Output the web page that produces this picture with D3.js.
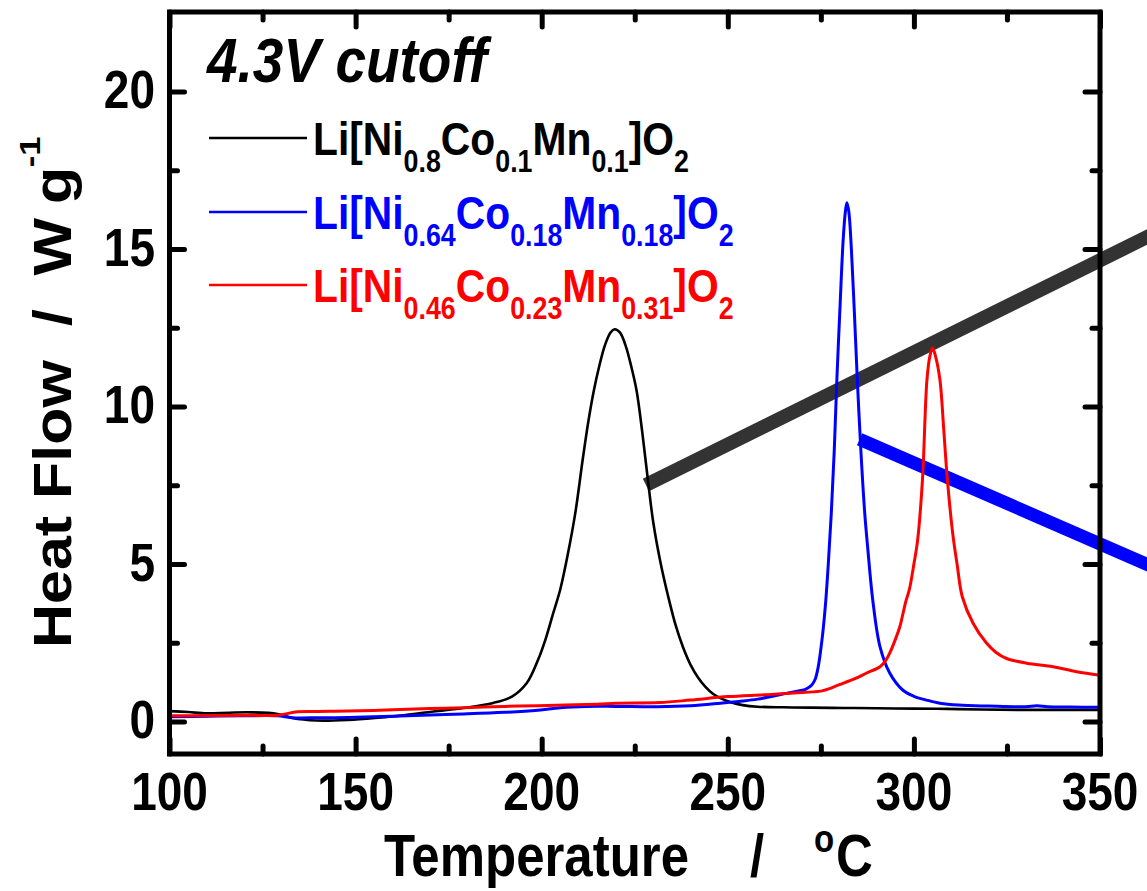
<!DOCTYPE html>
<html><head><meta charset="utf-8">
<script src="https://cdn.jsdelivr.net/npm/d3@7/dist/d3.min.js"></script>
<style>
body{margin:0;background:#fff}
svg{display:block;background:#fff}
text{font-family:"Liberation Sans",Arial,Helvetica,sans-serif;font-weight:bold}
</style>
</head><body>
<svg id="chart" width="1147" height="891"></svg>
<script>
// ---------- data ----------
const xTickValues = [100, 150, 200, 250, 300, 350];
const xMinorTicks = [125, 175, 225, 275, 325];
const yTickValues = [0, 5, 10, 15, 20];
const yMinorTicks = [2.5, 7.5, 12.5, 17.5];
const xTickLabels = ["100", "150", "200", "250", "300", "350"];
const yTickLabels = ["0", "5", "10", "15", "20"];

const blackT = [100,105,110,116,122,129,133,139.5,148,156,163,171,179,187,192,196,199,201,203,205,207,209,211,212.5,214,215.5,217,218.5,219.6,221,222.5,224,225.5,227,228.5,230,232,234,236,238,240,242,244,246,248,251,254,258,265,272,281,290,300,309,318,328,340,350];
const blackV = [0.33,0.30,0.26,0.28,0.29,0.24,0.11,0.03,0.05,0.12,0.20,0.32,0.43,0.59,0.79,1.22,1.95,2.6,3.4,4.2,5.3,6.6,8.3,9.5,10.5,11.3,11.95,12.35,12.45,12.35,11.95,11.3,10.5,9.2,7.7,6.3,5.0,3.96,3.05,2.35,1.8,1.4,1.1,0.88,0.74,0.6,0.52,0.47,0.45,0.44,0.43,0.42,0.41,0.40,0.38,0.37,0.37,0.37];

const blueT = [100,110,120,129,133,140,148,160,170,179,190,199,205,212,220,231,240,248,254,258,262,266,269,271,272.5,273.5,274.3,275,275.6,276.3,277,277.8,278.6,279.3,280.2,281,281.6,282,282.5,283.2,284,284.8,285.8,286.8,287.6,289,290.9,293.5,297,300,303.4,307,312,320,330,333,336,342,350];
const blueV = [0.15,0.17,0.18,0.18,0.12,0.12,0.13,0.17,0.21,0.24,0.29,0.36,0.44,0.48,0.48,0.47,0.50,0.58,0.65,0.71,0.80,0.90,0.97,1.03,1.15,1.35,1.74,2.3,2.9,3.8,5.0,6.6,8.6,10.84,13.3,15.3,16.2,16.47,16.2,15.0,13.0,10.84,8.5,6.6,5.5,3.8,2.37,1.54,1.0,0.8,0.68,0.58,0.52,0.49,0.47,0.50,0.47,0.46,0.45];

const redT = [100,110,120,129,134.4,140,148,160,170,179,190,199,215,220,231.7,240,250,260,270,275.6,280,284,287.3,290.9,292.5,293.5,295,296.2,297.8,298.8,300,301,302.3,303.5,304.3,305,305.8,307,308,309,310.5,311.6,313,315.9,319.5,322,324.9,330.3,337.4,343.7,350];
const redV = [0.18,0.19,0.20,0.20,0.31,0.32,0.33,0.37,0.41,0.44,0.48,0.50,0.55,0.58,0.60,0.68,0.79,0.85,0.92,0.98,1.17,1.35,1.54,1.74,1.95,2.17,2.6,3.0,3.8,4.2,5.0,5.76,7.67,10.84,11.6,11.86,11.6,10.84,9.3,7.67,5.9,5.0,3.96,3.12,2.49,2.2,2.0,1.85,1.74,1.58,1.47];

const seriesColors = ["#000000", "#0000ff", "#ff0000"];
const seriesLabels = [
  [{t:"Li[Ni"},{t:"0.8",sub:1},{t:"Co"},{t:"0.1",sub:1},{t:"Mn"},{t:"0.1",sub:1},{t:"]O"},{t:"2",sub:1}],
  [{t:"Li[Ni"},{t:"0.64",sub:1},{t:"Co"},{t:"0.18",sub:1},{t:"Mn"},{t:"0.18",sub:1},{t:"]O"},{t:"2",sub:1}],
  [{t:"Li[Ni"},{t:"0.46",sub:1},{t:"Co"},{t:"0.23",sub:1},{t:"Mn"},{t:"0.31",sub:1},{t:"]O"},{t:"2",sub:1}]
];
const titleText = "4.3V cutoff";
// annotation bars (data units: [T, value])
const grayBar = [[228.0, 7.51], [370, 15.81]];
const blueBar = [[285.4, 8.96], [370, 4.61]];

// ---------- layout ----------
const STRETCH = 1.15;
const L = 169.5, R = 1100, T = 12, B = 754;
const x = d3.scaleLinear().domain([100, 350]).range([L, R]);
const y = d3.scaleLinear().domain([0, 20]).range([721.5, 91.5]);

const svg = d3.select("#chart");

function richText(parent, tx, ty, segs, opts) {
  const g = parent.append("g").attr("transform", `translate(${tx},${ty}) scale(1,${STRETCH})`);
  const t = g.append("text").attr("font-size", opts.fs).attr("fill", opts.color || "#000")
    .attr("text-anchor", opts.anchor || "start");
  if (opts.italic) t.attr("font-style", "italic");
  let cur = 0;
  segs.forEach(s => {
    const off = s.sub ? opts.subDy : 0;
    t.append("tspan").attr("dy", off - cur)
      .attr("font-size", s.sub ? opts.subFs : opts.fs).text(s.t);
    cur = off;
  });
  return t;
}

// annotation bars (under curves)
const line = d3.line().x(d => x(d[0])).y(d => y(d[1]));
svg.append("path").attr("d", line(grayBar)).attr("stroke", "#333333").attr("stroke-width", 14).attr("fill", "none");
svg.append("path").attr("d", line(blueBar)).attr("stroke", "#0000ff").attr("stroke-width", 13).attr("fill", "none");

// curves
const curve = d3.line().x(d => x(d[0])).y(d => y(d[1])).curve(d3.curveCatmullRom.alpha(0.5));
const series = [[blackT, blackV], [blueT, blueV], [redT, redV]];
const widths = [2.6, 3, 3];
series.forEach((s, i) => {
  const pts = s[0].map((t, j) => [t, s[1][j]]);
  svg.append("path").attr("d", curve(pts)).attr("fill", "none")
    .attr("stroke", seriesColors[i]).attr("stroke-width", widths[i]).attr("stroke-linejoin", "round");
});

// axes ticks (inward)
function styleAxis(g) {
  g.select(".domain").remove();
  g.selectAll("line").attr("stroke", "#000").attr("stroke-width", 5).attr("stroke-linecap", "round");
  g.selectAll("text").remove();
}
svg.append("g").attr("transform", `translate(0,${B})`).call(d3.axisBottom(x).tickValues(xTickValues).tickSize(-15)).call(styleAxis);
svg.append("g").attr("transform", `translate(0,${B})`).call(d3.axisBottom(x).tickValues(xMinorTicks).tickSize(-8)).call(styleAxis);
svg.append("g").attr("transform", `translate(0,${T})`).call(d3.axisTop(x).tickValues(xTickValues).tickSize(-15)).call(styleAxis);
svg.append("g").attr("transform", `translate(0,${T})`).call(d3.axisTop(x).tickValues(xMinorTicks).tickSize(-8)).call(styleAxis);
svg.append("g").attr("transform", `translate(${L},0)`).call(d3.axisLeft(y).tickValues(yTickValues).tickSize(-15)).call(styleAxis);
svg.append("g").attr("transform", `translate(${L},0)`).call(d3.axisLeft(y).tickValues(yMinorTicks).tickSize(-8)).call(styleAxis);
svg.append("g").attr("transform", `translate(${R},0)`).call(d3.axisRight(y).tickValues(yTickValues).tickSize(-15)).call(styleAxis);
svg.append("g").attr("transform", `translate(${R},0)`).call(d3.axisRight(y).tickValues(yMinorTicks).tickSize(-8)).call(styleAxis);

// frame
svg.append("rect").attr("x", L).attr("y", T).attr("width", R - L).attr("height", B - T)
  .attr("fill", "none").attr("stroke", "#000").attr("stroke-width", 5);

// tick labels
xTickValues.forEach((v, i) => richText(svg, x(v), 810, [{t: xTickLabels[i]}], {fs: 46, anchor: "middle"}));
yTickValues.forEach((v, i) => richText(svg, 155, y(v) + 16.5, [{t: yTickLabels[i]}], {fs: 46, anchor: "end"}));

// x title
{
  const g = svg.append("g").attr("transform", `translate(384,876) scale(1,${STRETCH})`);
  const t = g.append("text").attr("font-size", 51);
  t.append("tspan").attr("x", 0).text("Temperature");
  t.append("tspan").attr("x", 366).text("/");
  t.append("tspan").attr("x", 430).attr("dy", -21).attr("font-size", 33).text("o");
  t.append("tspan").attr("x", 452).attr("dy", 21).text("C");
}
// y title
{
  const g = svg.append("g").attr("transform", `translate(71,648) scale(1,${STRETCH}) rotate(-90)`);
  const t = g.append("text").attr("font-size", 53);
  t.append("tspan").attr("x", 0).text("Heat Flow");
  t.append("tspan").attr("x", 280).text("/");
  t.append("tspan").attr("x", 324).text("W");
  t.append("tspan").attr("x", 386).text("g");
  t.append("tspan").attr("x", 418).attr("dy", -31).attr("font-size", 30).text("-1");
}

// title
richText(svg, 207, 82, [{t: titleText}], {fs: 55, italic: true});

// legend
const legendY = [138, 212, 285];
seriesLabels.forEach((segs, i) => {
  svg.append("line").attr("x1", 209).attr("x2", 307).attr("y1", legendY[i]).attr("y2", legendY[i])
    .attr("stroke", seriesColors[i]).attr("stroke-width", 2.6);
  richText(svg, 313, legendY[i] + 17, segs, {fs: 40.8, subFs: 26.8, subDy: 14.8, color: seriesColors[i]});
});
</script>
</body></html>
